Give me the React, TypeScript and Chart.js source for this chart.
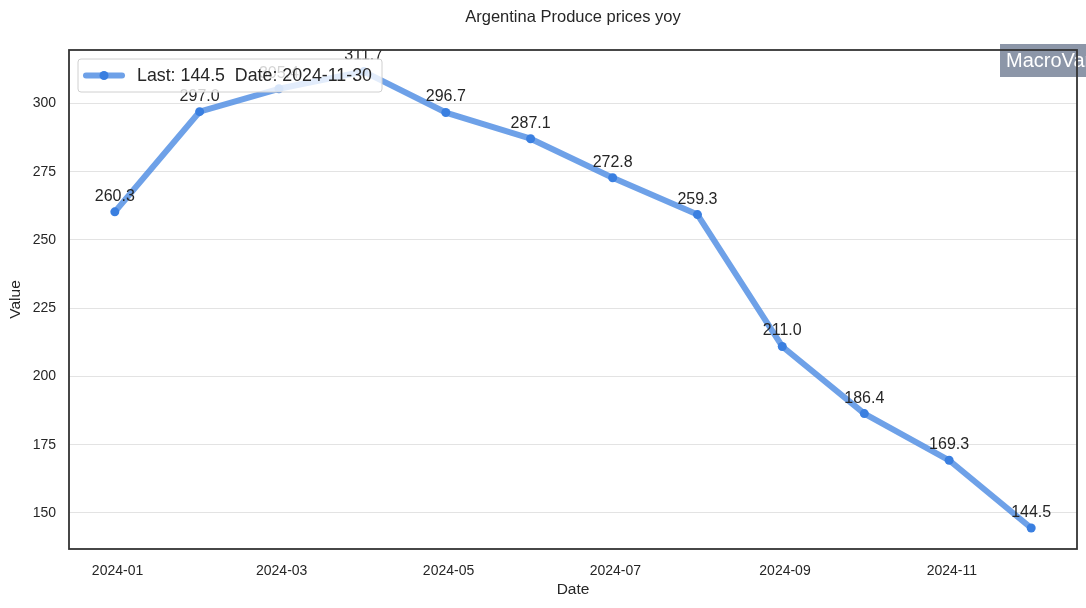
import React, { useEffect, useRef } from "react";
import { Chart, registerables } from "chart.js";

Chart.register(...registerables);

const TITLE = "Argentina Produce prices yoy";
const X_TITLE = "Date";
const Y_TITLE = "Value";
const WATERMARK = "MacroVar";

const dates = [
  "2023-12-31", "2024-01-31", "2024-02-29", "2024-03-31", "2024-04-30", "2024-05-31",
  "2024-06-30", "2024-07-31", "2024-08-31", "2024-09-30", "2024-10-31", "2024-11-30",
];
const values = [260.3, 297.0, 305.4, 311.7, 296.7, 287.1, 272.8, 259.3, 211.0, 186.4, 169.3, 144.5];

const xTickDates = ["2024-01-01", "2024-03-01", "2024-05-01", "2024-07-01", "2024-09-01", "2024-11-01"];
const xTickLabels = ["2024-01", "2024-03", "2024-05", "2024-07", "2024-09", "2024-11"];
const yTicks = [150, 175, 200, 225, 250, 275, 300];
const yRange = [136.8, 319.6];

const FONT = "'Liberation Sans', Arial, sans-serif";

const toMs = (s: string) => {
  const [y, m, d] = s.split("-").map(Number);
  return Date.UTC(y, m - 1, d);
};

export default function App() {
  const ref = useRef<HTMLCanvasElement | null>(null);

  useEffect(() => {
    const canvas = ref.current!;
    const xs = dates.map(toMs);
    const xMin0 = Math.min(...xs);
    const xMax0 = Math.max(...xs);
    const xPad = (xMax0 - xMin0) * 0.05;
    const lastVal = values[values.length - 1];
    const lastDate = dates[dates.length - 1];
    const legendText = `Last: ${lastVal.toFixed(1)}  Date: ${lastDate}`;

    const lineColor = "rgba(74,138,226,0.8)";
    const pointColor = "#3a7fe0";

    const decor = {
      id: "decor",
      beforeDraw(chart: any) {
        const ctx = chart.ctx;
        ctx.save();
        ctx.fillStyle = "#ffffff";
        ctx.fillRect(0, 0, chart.width, chart.height);
        ctx.restore();
      },
      afterDatasetsDraw(chart: any) {
        const ctx = chart.ctx;
        const area = chart.chartArea;
        const meta = chart.getDatasetMeta(0);
        // data labels
        ctx.save();
        ctx.beginPath();
        ctx.rect(area.left, area.top, area.right - area.left, area.bottom - area.top);
        ctx.clip();
        ctx.font = `16px ${FONT}`;
        ctx.fillStyle = "#262626";
        ctx.textAlign = "center";
        ctx.textBaseline = "middle";
        meta.data.forEach((pt: any, i: number) => {
          ctx.fillText(values[i].toFixed(1), pt.x, pt.y - 15.5);
        });
        ctx.restore();

        // watermark
        ctx.save();
        ctx.fillStyle = "#8c96a8";
        ctx.fillRect(1000, 44, 100, 33);
        ctx.fillStyle = "#ffffff";
        ctx.font = `20px ${FONT}`;
        ctx.textAlign = "left";
        ctx.textBaseline = "middle";
        ctx.fillText(WATERMARK, 1006, 61);
        ctx.restore();

        // frame
        ctx.save();
        ctx.strokeStyle = "#333333";
        ctx.lineWidth = 1.8;
        ctx.strokeRect(area.left, area.top, area.right - area.left, area.bottom - area.top);
        ctx.restore();

        // legend
        ctx.save();
        const lx = 78, ly = 59, lw = 304, lh = 33, r = 3;
        ctx.beginPath();
        ctx.moveTo(lx + r, ly);
        ctx.lineTo(lx + lw - r, ly);
        ctx.quadraticCurveTo(lx + lw, ly, lx + lw, ly + r);
        ctx.lineTo(lx + lw, ly + lh - r);
        ctx.quadraticCurveTo(lx + lw, ly + lh, lx + lw - r, ly + lh);
        ctx.lineTo(lx + r, ly + lh);
        ctx.quadraticCurveTo(lx, ly + lh, lx, ly + lh - r);
        ctx.lineTo(lx, ly + r);
        ctx.quadraticCurveTo(lx, ly, lx + r, ly);
        ctx.closePath();
        ctx.fillStyle = "rgba(255,255,255,0.8)";
        ctx.fill();
        ctx.strokeStyle = "#d0d0d0";
        ctx.lineWidth = 1;
        ctx.stroke();
        const cy = ly + lh / 2;
        ctx.strokeStyle = lineColor;
        ctx.lineWidth = 6;
        ctx.lineCap = "round";
        ctx.beginPath();
        ctx.moveTo(86, cy);
        ctx.lineTo(122, cy);
        ctx.stroke();
        ctx.fillStyle = pointColor;
        ctx.beginPath();
        ctx.arc(104, cy, 4.5, 0, Math.PI * 2);
        ctx.fill();
        ctx.fillStyle = "#262626";
        ctx.font = `17.8px ${FONT}`;
        ctx.textAlign = "left";
        ctx.textBaseline = "middle";
        ctx.fillText(legendText, 137, cy + 1);
        ctx.restore();

        // titles
        ctx.save();
        ctx.fillStyle = "#262626";
        ctx.textAlign = "center";
        ctx.textBaseline = "middle";
        ctx.font = `16.5px ${FONT}`;
        ctx.fillText(TITLE, (area.left + area.right) / 2, 17);
        ctx.font = `15.5px ${FONT}`;
        ctx.fillText(X_TITLE, (area.left + area.right) / 2, 590);
        ctx.translate(16, (area.top + area.bottom) / 2);
        ctx.rotate(-Math.PI / 2);
        ctx.fillText(Y_TITLE, 0, 0);
        ctx.restore();
      },
    };

    const chart = new Chart(canvas, {
      type: "line",
      data: {
        datasets: [
          {
            data: xs.map((x, i) => ({ x, y: values[i] })),
            borderColor: lineColor,
            borderWidth: 6,
            borderCapStyle: "round",
            borderJoinStyle: "round",
            pointRadius: 4.5,
            pointBackgroundColor: pointColor,
            pointBorderWidth: 0,
            pointHoverRadius: 4.5,
            tension: 0,
            fill: false,
          },
        ],
      },
      options: {
        responsive: false,
        animation: false,
        devicePixelRatio: 1,
        layout: { padding: { top: 50, right: 9, left: 0, bottom: 0 } },
        plugins: {
          legend: { display: false },
          title: { display: false },
          tooltip: { enabled: false },
        },
        scales: {
          x: {
            type: "linear",
            min: xMin0 - xPad,
            max: xMax0 + xPad,
            grid: { display: false, drawTicks: false },
            border: { display: false },
            afterBuildTicks: (scale: any) => {
              scale.ticks = xTickDates.map((d) => ({ value: toMs(d) }));
            },
            afterFit: (scale: any) => {
              scale.height = 59;
            },
            ticks: {
              autoSkip: false,
              maxRotation: 0,
              padding: 14,
              color: "#262626",
              font: { family: FONT, size: 14 },
              callback: (_v: any, i: number) => xTickLabels[i],
            },
          },
          y: {
            type: "linear",
            min: yRange[0],
            max: yRange[1],
            grid: { color: "#e3e3e3", lineWidth: 1, drawTicks: false },
            border: { display: false },
            afterBuildTicks: (scale: any) => {
              scale.ticks = yTicks.map((v) => ({ value: v }));
            },
            afterFit: (scale: any) => {
              scale.width = 69;
            },
            ticks: {
              padding: 13,
              color: "#262626",
              font: { family: FONT, size: 14 },
              callback: (v: any) => String(v),
            },
          },
        },
      } as any,
      plugins: [decor],
    });
    return () => chart.destroy();
  }, []);

  return (
    <div style={{ position: "fixed", left: 0, top: 0, width: 1086, height: 608, background: "#fff" }}>
      <canvas ref={ref} width={1086} height={608} style={{ display: "block" }} />
    </div>
  );
}
